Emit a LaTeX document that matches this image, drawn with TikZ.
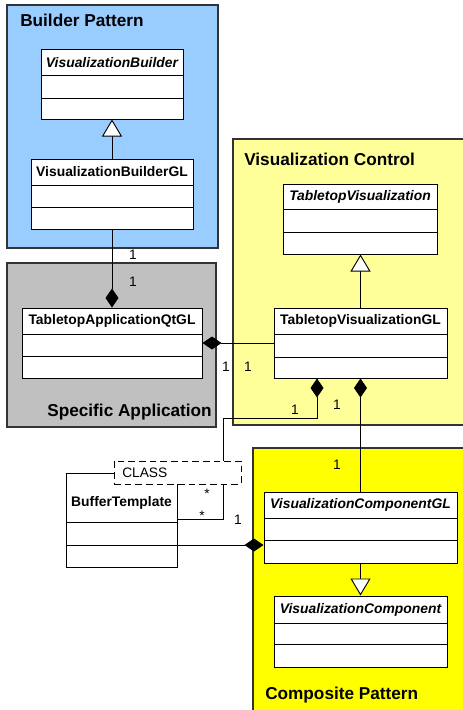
\documentclass[tikz,border=0pt]{standalone}
\usepackage{fontspec}
\setmainfont{Liberation Sans}
\usetikzlibrary{arrows.meta,fit,calc}
\definecolor{bpblue}{HTML}{99CCFF}
\definecolor{sagray}{HTML}{C0C0C0}
\definecolor{vcyellow}{HTML}{FFFF99}
\definecolor{cpyellow}{HTML}{FFFF00}
\tikzset{
  container/.style={draw=black!80, line width=1pt},
  clsbox/.style={draw, fill=white, line width=0.75pt, inner sep=0pt},
  clsline/.style={line width=0.75pt},
  clsname/.style={font=\fontsize{10.4}{12}\selectfont\bfseries, inner sep=0pt},
  title/.style={font=\fontsize{12.9}{15}\selectfont\bfseries, inner sep=0pt},
  mult/.style={font=\fontsize{10.3}{12}\selectfont, inner sep=0pt},
  conn/.style={line width=0.7pt},
  inh/.style={conn, -{Triangle[fill=white, length=12.75pt, width=15pt, line width=0.7pt]}},
  compend/.style={conn, -{Diamond[length=14.25pt, width=9.75pt]}},
  compstart/.style={conn, {Diamond[length=14.25pt, width=9.75pt]}-},
}
\newcommand\umlclass[8]{%
  \node[clsbox, fit={(#2,#3) (#4,#5)}] (#1) {};
  \draw[clsline] (#2,#6) -- (#4,#6) (#2,#7) -- (#4,#7);
  \node[clsname] (#1-name) at ($(#2,#3)!0.5!(#4,#6)$) {#8};
}
\begin{document}
\begin{tikzpicture}[x=0.75pt,y=-0.75pt]
\useasboundingbox (0,0) rectangle (462,710);
\fill[white] (0,0) rectangle (462,710);
% containers
\filldraw[container, fill=bpblue] (7,5) rectangle (218,248);
\filldraw[container, fill=sagray] (7,263) rectangle (216,427);
\filldraw[container, fill=vcyellow] (233,139) rectangle (464,425);
\filldraw[container, fill=cpyellow] (253,448) rectangle (464,712);
\node[title, anchor=west] (tbp) at (20,20) {Builder Pattern};
\node[title, anchor=west] (tvc) at (244,159) {Visualization Control};
\node[title, anchor=east] (tsa) at (212,412) {Specific Application};
\node[title, anchor=west] (tcp) at (265,695) {Composite Pattern};
% classes
\umlclass{vb}{41}{50}{183}{119}{76}{98}{\itshape VisualizationBuilder}
\umlclass{vbgl}{31}{159}{193}{229}{185}{207}{VisualizationBuilderGL}
\umlclass{taq}{22}{308}{202}{378}{334}{356}{TabletopApplicationQtGL}
\umlclass{tv}{283}{184}{437}{254}{209}{232}{\itshape TabletopVisualization}
\umlclass{tvgl}{274}{308}{447}{378}{334}{357}{TabletopVisualizationGL}
\umlclass{vcgl}{264}{492}{457}{563}{518}{540}{\itshape VisualizationComponentGL}
\umlclass{vc}{274}{596}{447}{667}{623}{644}{\itshape VisualizationComponent}
% BufferTemplate with template parameter box
\node[clsbox, fit={(66,473) (177,567)}] (bt) {};
\draw[clsline] (66,522) -- (177,522) (66,545) -- (177,545);
\node[clsname] (bt-name) at (121.5,503) {BufferTemplate};
\node[draw, fill=white, line width=0.75pt, dash pattern=on 5pt off 3pt, inner sep=0pt, fit={(114,461) (241,484)}] (tpl) {};
\node[font=\fontsize{10.3}{12}\selectfont, anchor=west, inner sep=0pt] (tpl-name) at (122,472.5) {CLASS};
% connectors
\draw[inh] (vbgl.north) -- (vbgl.north |- vb.south);
\draw[inh] (tvgl.north) -- (tvgl.north |- tv.south);
\draw[inh] (vcgl.south) -- (vcgl.south |- vc.north);
\draw[compend] (vbgl.south) -- (vbgl.south |- taq.north);
\draw[compstart] (taq.east) -- (taq.east -| tvgl.west);
\draw[compstart] (tvgl.south -| 317,0) |- (223,418) -- (tpl.north -| 223,0);
\draw[compstart] (tvgl.south) -- (tvgl.south |- vcgl.north);
\draw[conn] (bt.east |- 0,519) -| (tpl.south -| 223,0);
\draw[compend] (bt.east |- 0,545) -- (vcgl.west |- 0,545);
% multiplicities
\node[mult] (m1) at (133,255) {1};
\node[mult] (m2) at (133,282) {1};
\node[mult] (m3) at (226,367) {1};
\node[mult] (m4) at (248,367) {1};
\node[mult] (m5) at (295,410) {1};
\node[mult] (m6) at (337,405) {1};
\node[mult] (m7) at (337,465) {1};
\node[mult] (m8) at (207,494) {*};
\node[mult] (m9) at (202,516) {*};
\node[mult] (m10) at (238,520) {1};
\end{tikzpicture}
\end{document}
